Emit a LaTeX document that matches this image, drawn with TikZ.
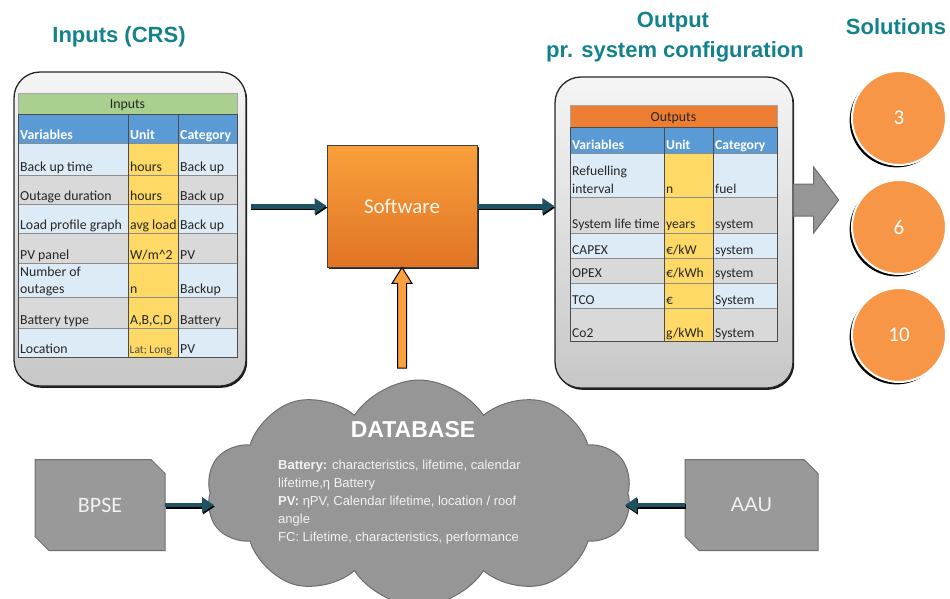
\documentclass[tikz,border=0pt]{standalone}
\usepackage{fontspec}
\setmainfont{Carlito}
\newfontfamily\arialf{Liberation Sans}
\usetikzlibrary{arrows.meta,calc,shapes.symbols,shadows}
\definecolor{titleteal}{RGB}{20,130,140}
\definecolor{arrteal}{RGB}{30,82,98}
\definecolor{hdrgreen}{RGB}{169,208,142}
\definecolor{hdrblue}{RGB}{91,155,213}
\definecolor{hdrorange}{RGB}{237,125,49}
\definecolor{rowblue}{RGB}{221,235,247}
\definecolor{rowgray}{RGB}{217,217,217}
\definecolor{unity}{RGB}{255,217,102}
\definecolor{swtop}{RGB}{250,160,60}
\definecolor{swbot}{RGB}{224,116,38}
\definecolor{solor}{RGB}{247,150,70}
\definecolor{cloudgray}{RGB}{150,150,150}
\definecolor{boxgray}{RGB}{153,153,153}
\definecolor{edgegray}{RGB}{110,110,110}
\definecolor{dbtext}{RGB}{242,242,242}
\begin{document}
\begin{tikzpicture}[x=1pt,y=-1pt,
  title/.style={font=\arialf\bfseries\fontsize{22}{25}\selectfont, text=titleteal, inner sep=0},
  panel/.style={draw=black!85, line width=1.3pt, rounded corners=26pt, top color=white!96!black, bottom color=black!22,
    drop shadow={shadow xshift=1.2pt, shadow yshift=-1.8pt, fill=black, opacity=0.9}},
  cell/.style={anchor=base west, inner sep=0, font=\fontsize{13.8}{16}\selectfont, text=black!85},
  hcell/.style={anchor=base west, inner sep=0, font=\bfseries\fontsize{13.8}{16}\selectfont, text=white},
  ocell/.style={anchor=base west, inner sep=0, font=\fontsize{13.6}{16}\selectfont, text=black!85},
  ohcell/.style={anchor=base west, inner sep=0, font=\bfseries\fontsize{13.6}{16}\selectfont, text=white},
  tline/.style={draw=black!45, line width=0.5pt},
  tframe/.style={draw=black!70, line width=0.7pt},
  tealarr/.style={draw=arrteal, line width=5pt, -{Triangle[length=12pt,width=15pt]}},
  tealsh/.style={draw=black, line width=5pt, -{Triangle[length=12pt,width=15pt]}, transform canvas={shift={(0.8pt,-1.6pt)}}},
  swbox/.style={draw=black!75, line width=0.8pt, top color=swtop, bottom color=swbot, minimum width=150pt, minimum height=122pt,
    drop shadow={shadow xshift=1.5pt, shadow yshift=-1.5pt, fill=black, opacity=0.85},
    font=\fontsize{21}{25}\selectfont, text=white!92!orange},
  solc/.style={circle, fill=solor, draw=white, line width=2pt, minimum size=94pt, inner sep=0,
    drop shadow={shadow xshift=-2.4pt, shadow yshift=-2.4pt, fill=black, opacity=1},
    font=\fontsize{21}{25}\selectfont, text=white},
  chamf/.style={fill=boxgray, draw=edgegray, line width=1pt},
  srclabel/.style={inner sep=0, minimum width=130pt, minimum height=91pt, text=dbtext}
]
\useasboundingbox (0,0) rectangle (950,598);

% titles
\node[title] (t1) at (119,37) {Inputs (CRS)};
\node[title] (t2) at (673,22) {Output};
\node[title] (t3) at (675,52) {pr. system configuration};
\node[title] (t4) at (896,27) {Solutions};

% panels
\node[panel, minimum width=232pt, minimum height=314pt] (inbox) at (130,229) {};
\node[panel, minimum width=238pt, minimum height=311pt] (outbox) at (674,232.5) {};

% ---------- input table ----------
\fill[hdrgreen] (18,93) rectangle (237,114);
\fill[hdrblue] (18,114) rectangle (237,143);
\fill[rowblue] (18,143) rectangle (237,175);
\fill[rowgray] (18,175) rectangle (237,204);
\fill[rowblue] (18,204) rectangle (237,233);
\fill[rowgray] (18,233) rectangle (237,263);
\fill[rowblue] (18,263) rectangle (237,297);
\fill[rowgray] (18,297) rectangle (237,328);
\fill[rowblue] (18,328) rectangle (237,357);
\fill[unity] (128,143) rectangle (178,357);
\foreach \yy in {143,175,204,233,263,297,328} {\draw[tline] (18,\yy) -- (237,\yy);}
\draw[tframe] (128,114) -- (128,357);
\draw[tframe] (178,114) -- (178,357);
\draw[draw=black!35, line width=0.5pt] (18,93) rectangle (237,114);
\draw[tframe] (18,114) rectangle (237,357);
\node[anchor=base, inner sep=0, font=\fontsize{13.8}{16}\selectfont, text=black!85] (ih) at (127.5,108.5) {Inputs};
\node[hcell] (ihv) at (20,139.5) {Variables};
\node[hcell] (ihu) at (130,139.5) {Unit};
\node[hcell] (ihc) at (180,139.5) {Category};
\node[cell] (i1v) at (20,171.5) {Back up time};
\node[cell] (i1u) at (130,171.5) {hours};
\node[cell] (i1c) at (180,171.5) {Back up};
\node[cell] (i2v) at (20,200.5) {Outage duration};
\node[cell] (i2u) at (130,200.5) {hours};
\node[cell] (i2c) at (180,200.5) {Back up};
\node[cell] (i3v) at (20,229.5) {Load profile graph};
\node[cell] (i3u) at (130,229.5) {avg load};
\node[cell] (i3c) at (180,229.5) {Back up};
\node[cell] (i4v) at (20,259.5) {PV panel};
\node[cell] (i4u) at (130,259.5) {W/m\^{}2};
\node[cell] (i4c) at (180,259.5) {PV};
\node[cell] (i5a) at (20,276.5) {Number of};
\node[cell] (i5v) at (20,293.5) {outages};
\node[cell] (i5u) at (130,293.5) {n};
\node[cell] (i5c) at (180,293.5) {Backup};
\node[cell] (i6v) at (20,324) {Battery type};
\node[cell] (i6u) at (130,324) {A,B,C,D};
\node[cell] (i6c) at (180,324) {Battery};
\node[cell] (i7v) at (20,353) {Location};
\node[cell, font=\fontsize{11.5}{13}\selectfont, text=black!70] (i7u) at (129.5,353) {Lat; Long};
\node[cell] (i7c) at (180,353) {PV};

% ---------- output table ----------
\fill[hdrorange] (570,105) rectangle (777,127);
\fill[hdrblue] (570,127) rectangle (777,153);
\fill[rowblue] (570,153) rectangle (777,197);
\fill[rowgray] (570,197) rectangle (777,233);
\fill[rowblue] (570,233) rectangle (777,258);
\fill[rowgray] (570,258) rectangle (777,283);
\fill[rowblue] (570,283) rectangle (777,308);
\fill[rowgray] (570,308) rectangle (777,341);
\fill[unity] (664,153) rectangle (713,341);
\foreach \yy in {153,197,233,258,283,308} {\draw[tline] (570,\yy) -- (777,\yy);}
\draw[tframe] (664,127) -- (664,341);
\draw[tframe] (713,127) -- (713,341);
\draw[draw=black!35, line width=0.5pt] (570,105) rectangle (777,127);
\draw[tframe] (570,127) rectangle (777,341);
\node[anchor=base, inner sep=0, font=\fontsize{13.8}{16}\selectfont, text=black!85] (oh) at (673.5,121) {Outputs};
\node[ohcell] (ohv) at (572,149.5) {Variables};
\node[ohcell] (ohu) at (666,149.5) {Unit};
\node[ohcell] (ohc) at (715,149.5) {Category};
\node[ocell] (o1a) at (572,175.5) {Refuelling};
\node[ocell] (o1v) at (572,193.5) {interval};
\node[ocell] (o1u) at (666,193.5) {n};
\node[ocell] (o1c) at (715,193.5) {fuel};
\node[ocell] (o2v) at (572,228.5) {System life time};
\node[ocell] (o2u) at (666,228.5) {years};
\node[ocell] (o2c) at (715,228.5) {system};
\node[ocell] (o3v) at (572,254.5) {CAPEX};
\node[ocell] (o3u) at (666,254.5) {€/kW};
\node[ocell] (o3c) at (715,254.5) {system};
\node[ocell] (o4v) at (572,277.5) {OPEX};
\node[ocell] (o4u) at (666,277.5) {€/kWh};
\node[ocell] (o4c) at (715,277.5) {system};
\node[ocell] (o5v) at (572,304.5) {TCO};
\node[ocell] (o5u) at (666,304.5) {€};
\node[ocell] (o5c) at (715,304.5) {System};
\node[ocell] (o6v) at (572,337.5) {Co2};
\node[ocell] (o6u) at (666,337.5) {g/kWh};
\node[ocell] (o6c) at (715,337.5) {System};

% ---------- software ----------
\node[swbox] (sw) at (402,206) {Software};
\draw[tealsh, shorten <=4pt] (inbox.east |- sw.west) -- (sw.west);
\draw[tealarr, shorten <=4pt] (inbox.east |- sw.west) -- (sw.west);
\draw[tealsh] (sw.east) -- (sw.east -| outbox.west);
\draw[tealarr] (sw.east) -- (sw.east -| outbox.west);

% orange arrow from database
\coordinate (dbtop) at (sw.south |- 0,368);
\draw[fill=swtop, draw=black, line width=1pt, line join=miter]
  ($(dbtop)+(-4.5,0)$) -- ($(sw.south)+(-4.5,16)$) -- ($(sw.south)+(-10,16)$) -- (sw.south)
  -- ($(sw.south)+(10,16)$) -- ($(sw.south)+(4.5,16)$) -- ($(dbtop)+(4.5,0)$) -- cycle;

% big gray arrow
\coordinate (ga) at (outbox.east |- 0,200);
\draw[fill=cloudgray, draw=edgegray, line width=1pt]
  ($(ga)+(0,-16)$) -- ($(ga)+(20,-16)$) -- ($(ga)+(20,-33)$) -- ($(ga)+(45,0)$)
  -- ($(ga)+(20,33)$) -- ($(ga)+(20,16)$) -- ($(ga)+(0,16)$) -- cycle;

% solutions
\node[solc] (s3) at (899,118) {3};
\node[solc] (s6) at (899,227) {6};
\node[solc] (s10) at (899,335) {10};

% ---------- database cloud ----------
\node[cloud, cloud puffs=10, cloud puff arc=115, aspect=1.9, draw=edgegray, fill=cloudgray, line width=1pt,
  minimum width=425pt, minimum height=226pt, inner sep=0] (db) at (419,493) {};
\node[inner sep=0, font=\arialf\bfseries\fontsize{23}{26}\selectfont, text=white] (dbt) at (413,430) {DATABASE};
\node[anchor=north west, align=left, inner sep=0, text=dbtext, font=\arialf\fontsize{13}{18}\selectfont] (dbtxt) at (278,460)
  {\textbf{Battery:} characteristics, lifetime, calendar\\lifetime,η Battery\\\textbf{PV:} ηPV, Calendar lifetime, location / roof\\angle\\FC: Lifetime, characteristics, performance};
\coordinate (dbL) at (214,505);
\coordinate (dbR) at (625,506);

% sources
\coordinate (bc) at (100,505);
\draw[chamf] ($(bc)+(-65,-45.5)$) -- ($(bc)+(51,-45.5)$) -- ($(bc)+(65,-31.5)$) -- ($(bc)+(65,45.5)$)
  -- ($(bc)+(-51,45.5)$) -- ($(bc)+(-65,31.5)$) -- cycle;
\node[srclabel, font=\fontsize{22}{26}\selectfont] (bpse) at (bc) {BPSE};
\coordinate (ac) at (751.5,505);
\draw[chamf] ($(ac)+(-66.5,-45.5)$) -- ($(ac)+(52.5,-45.5)$) -- ($(ac)+(66.5,-31.5)$) -- ($(ac)+(66.5,45.5)$)
  -- ($(ac)+(-52.5,45.5)$) -- ($(ac)+(-66.5,31.5)$) -- cycle;
\node[srclabel, minimum width=133pt, font=\arialf\fontsize{20}{24}\selectfont] (aau) at (ac) {AAU};

\draw[tealsh, line width=4.5pt] (bpse.east) -- (bpse.east -| dbL);
\draw[tealarr, line width=4.5pt] (bpse.east) -- (bpse.east -| dbL);
\draw[tealsh, line width=4.5pt] (aau.west) -- (aau.west -| dbR);
\draw[tealarr, line width=4.5pt] (aau.west) -- (aau.west -| dbR);
\end{tikzpicture}
\end{document}
